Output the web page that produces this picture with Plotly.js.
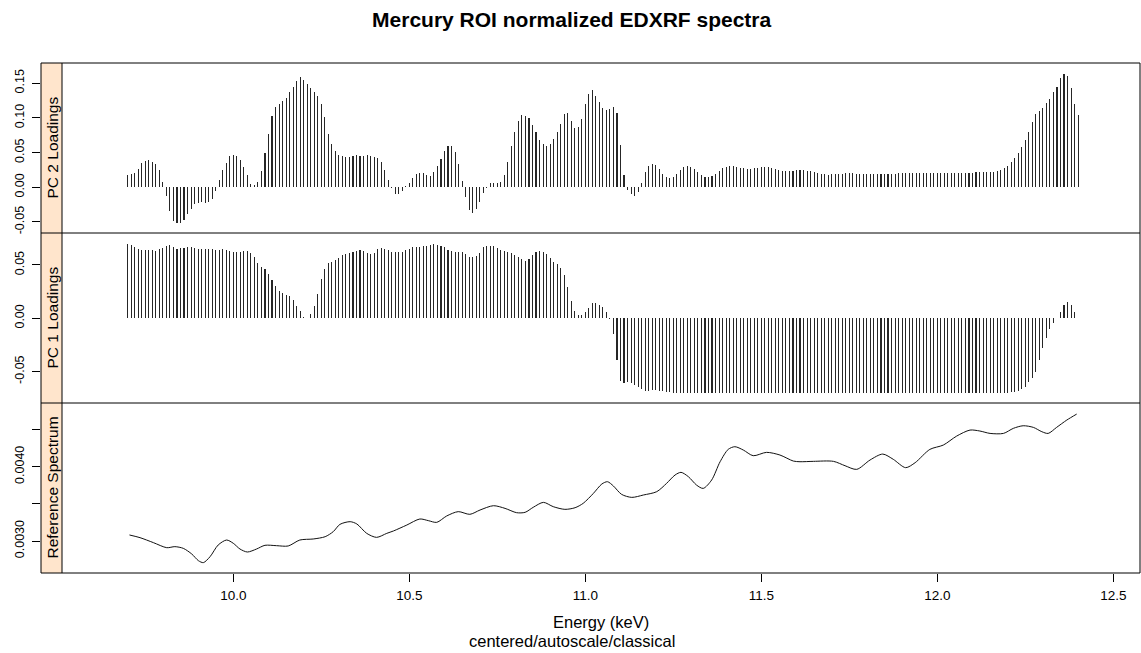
<!DOCTYPE html>
<html>
<head>
<meta charset="utf-8">
<script src="https://cdn.plot.ly/plotly-3.0.1.min.js"></script>
<style>
  html, body { margin: 0; padding: 0; background: #ffffff; }
  #chart { width: 1141px; height: 653px; }
</style>
</head>
<body>
<div id="chart"></div>
<script>
// Energy channels of the mercury region of interest (keV)
const energyStart = 9.70;
const energyStep = 0.01;

// PC 2 loadings, one value per channel
const pc2Loadings = [
  0.0178, 0.0190, 0.0210, 0.0270, 0.0350, 0.0380, 0.0390, 0.0370, 0.0330, 0.0250,
  0.0080, -0.0130, -0.0340, -0.0480, -0.0520, -0.0510, -0.0470, -0.0390, -0.0310, -0.0245,
  -0.0220, -0.0205, -0.0220, -0.0205, -0.0170, -0.0060, 0.0105, 0.0250, 0.0345, 0.0450,
  0.0466, 0.0450, 0.0390, 0.0290, 0.0170, 0.0050, 0.0040, 0.0080, 0.0235, 0.0490,
  0.0770, 0.1030, 0.1160, 0.1200, 0.1240, 0.1290, 0.1370, 0.1450, 0.1530, 0.1585,
  0.1550, 0.1490, 0.1430, 0.1370, 0.1320, 0.1205, 0.1010, 0.0770, 0.0620, 0.0530,
  0.0466, 0.0456, 0.0440, 0.0437, 0.0450, 0.0466, 0.0456, 0.0456, 0.0466, 0.0450,
  0.0437, 0.0420, 0.0360, 0.0250, 0.0106, -0.0010, -0.0100, -0.0100, -0.0060, 0.0012,
  0.0067, 0.0140, 0.0190, 0.0210, 0.0200, 0.0180, 0.0160, 0.0226, 0.0300, 0.0410,
  0.0530, 0.0600, 0.0600, 0.0510, 0.0330, 0.0090, -0.0135, -0.0330, -0.0365, -0.0310,
  -0.0207, -0.0086, -0.0014, 0.0062, 0.0062, 0.0062, 0.0077, 0.0180, 0.0360, 0.0600,
  0.0800, 0.0950, 0.1040, 0.1030, 0.0994, 0.0900, 0.0790, 0.0680, 0.0620, 0.0600,
  0.0624, 0.0700, 0.0790, 0.0910, 0.1050, 0.1066, 0.0956, 0.0860, 0.0870, 0.0980,
  0.1196, 0.1345, 0.1398, 0.1320, 0.1234, 0.1138, 0.1114, 0.1129, 0.1153, 0.1066,
  0.0610, 0.0178, -0.0038, -0.0096, -0.0125, -0.0062, 0.0067, 0.0216, 0.0307, 0.0336,
  0.0322, 0.0264, 0.0192, 0.0149, 0.0139, 0.0154, 0.0192, 0.0250, 0.0288, 0.0307,
  0.0288, 0.0264, 0.0226, 0.0178, 0.0149, 0.0149, 0.0163, 0.0197, 0.0235, 0.0274,
  0.0293, 0.0303, 0.0307, 0.0293, 0.0283, 0.0274, 0.0264, 0.0264, 0.0274, 0.0283,
  0.0288, 0.0288, 0.0288, 0.0274, 0.0260, 0.0245, 0.0235, 0.0235, 0.0235, 0.0235,
  0.0250, 0.0250, 0.0250, 0.0235, 0.0230, 0.0216, 0.0207, 0.0192, 0.0192, 0.0178,
  0.0192, 0.0192, 0.0192, 0.0192, 0.0207, 0.0207, 0.0207, 0.0192, 0.0192, 0.0192,
  0.0192, 0.0192, 0.0192, 0.0192, 0.0192, 0.0192, 0.0192, 0.0192, 0.0192, 0.0200,
  0.0211, 0.0207, 0.0207, 0.0207, 0.0207, 0.0207, 0.0207, 0.0207, 0.0207, 0.0207,
  0.0207, 0.0207, 0.0207, 0.0207, 0.0207, 0.0207, 0.0207, 0.0207, 0.0207, 0.0207,
  0.0207, 0.0216, 0.0226, 0.0221, 0.0221, 0.0221, 0.0221, 0.0235, 0.0250, 0.0279,
  0.0307, 0.0360, 0.0418, 0.0490, 0.0576, 0.0677, 0.0797, 0.0937, 0.1057, 0.1100,
  0.1148, 0.1210, 0.1268, 0.1369, 0.1450, 0.1580, 0.1633, 0.1610, 0.1427, 0.1196,
  0.1042
];

// PC 1 loadings, one value per channel
const pc1Loadings = [
  0.0697, 0.0688, 0.0666, 0.0647, 0.0641, 0.0641, 0.0641, 0.0641, 0.0635, 0.0647,
  0.0657, 0.0679, 0.0688, 0.0672, 0.0654, 0.0657, 0.0660, 0.0669, 0.0666, 0.0660,
  0.0654, 0.0647, 0.0650, 0.0650, 0.0647, 0.0641, 0.0641, 0.0650, 0.0641, 0.0635,
  0.0622, 0.0622, 0.0625, 0.0632, 0.0635, 0.0613, 0.0578, 0.0522, 0.0485, 0.0460,
  0.0413, 0.0360, 0.0303, 0.0256, 0.0235, 0.0216, 0.0206, 0.0172, 0.0116, 0.0069,
  0.0016, 0.0006, 0.0038, 0.0116, 0.0228, 0.0366, 0.0460, 0.0516, 0.0532, 0.0547,
  0.0569, 0.0591, 0.0603, 0.0616, 0.0625, 0.0635, 0.0641, 0.0632, 0.0616, 0.0603,
  0.0616, 0.0647, 0.0657, 0.0650, 0.0641, 0.0622, 0.0622, 0.0622, 0.0622, 0.0641,
  0.0650, 0.0666, 0.0672, 0.0672, 0.0679, 0.0682, 0.0691, 0.0694, 0.0688, 0.0682,
  0.0666, 0.0641, 0.0635, 0.0619, 0.0625, 0.0625, 0.0603, 0.0578, 0.0578, 0.0588,
  0.0616, 0.0666, 0.0682, 0.0682, 0.0682, 0.0663, 0.0641, 0.0632, 0.0625, 0.0610,
  0.0597, 0.0578, 0.0553, 0.0541, 0.0560, 0.0594, 0.0625, 0.0635, 0.0625, 0.0603,
  0.0569, 0.0532, 0.0507, 0.0469, 0.0407, 0.0291, 0.0166, 0.0069, 0.0031, 0.0031,
  0.0063, 0.0094, 0.0141, 0.0147, 0.0125, 0.0103, 0.0063, -0.0003, -0.0147, -0.0390,
  -0.0585, -0.0604, -0.0600, -0.0610, -0.0625, -0.0641, -0.0666, -0.0679, -0.0679, -0.0672,
  -0.0672, -0.0679, -0.0682, -0.0688, -0.0694, -0.0697, -0.0700, -0.0700, -0.0702, -0.0702,
  -0.0703, -0.0703, -0.0703, -0.0703, -0.0704, -0.0704, -0.0703, -0.0703, -0.0703, -0.0703,
  -0.0703, -0.0703, -0.0704, -0.0704, -0.0704, -0.0703, -0.0703, -0.0703, -0.0703, -0.0703,
  -0.0703, -0.0703, -0.0703, -0.0703, -0.0703, -0.0703, -0.0704, -0.0704, -0.0704, -0.0704,
  -0.0704, -0.0704, -0.0704, -0.0704, -0.0704, -0.0704, -0.0704, -0.0704, -0.0704, -0.0704,
  -0.0704, -0.0704, -0.0704, -0.0704, -0.0704, -0.0704, -0.0704, -0.0704, -0.0704, -0.0704,
  -0.0704, -0.0704, -0.0704, -0.0704, -0.0704, -0.0704, -0.0704, -0.0704, -0.0704, -0.0704,
  -0.0704, -0.0704, -0.0704, -0.0704, -0.0704, -0.0704, -0.0704, -0.0704, -0.0704, -0.0704,
  -0.0704, -0.0704, -0.0704, -0.0704, -0.0704, -0.0704, -0.0704, -0.0704, -0.0704, -0.0704,
  -0.0704, -0.0704, -0.0704, -0.0704, -0.0704, -0.0704, -0.0704, -0.0704, -0.0703, -0.0702,
  -0.0700, -0.0694, -0.0688, -0.0679, -0.0666, -0.0641, -0.0594, -0.0563, -0.0500, -0.0390,
  -0.0281, -0.0181, -0.0103, -0.0047, 0.0003, 0.0063, 0.0125, 0.0156, 0.0125, 0.0063,
  0.0005
];

// Normalized reference spectrum sampled along the energy axis
const refEnergy = [
  9.705, 9.735, 9.773, 9.811, 9.834, 9.858, 9.882, 9.901, 9.915, 9.934,
  9.957, 9.981, 10.000, 10.019, 10.040, 10.066, 10.090, 10.123, 10.156, 10.189,
  10.227, 10.261, 10.284, 10.303, 10.332, 10.351, 10.379, 10.407, 10.436, 10.455,
  10.493, 10.530, 10.554, 10.578, 10.606, 10.639, 10.672, 10.701, 10.739, 10.772,
  10.805, 10.829, 10.852, 10.881, 10.909, 10.942, 10.971, 10.994, 11.023, 11.047,
  11.063, 11.080, 11.103, 11.132, 11.165, 11.203, 11.231, 11.255, 11.272, 11.293,
  11.316, 11.335, 11.359, 11.383, 11.406, 11.425, 11.449, 11.477, 11.515, 11.553,
  11.591, 11.610, 11.648, 11.705, 11.738, 11.771, 11.809, 11.845, 11.875, 11.910,
  11.937, 11.979, 12.017, 12.055, 12.093, 12.121, 12.150, 12.188, 12.216, 12.244,
  12.273, 12.297, 12.315, 12.339, 12.368, 12.396
];
const refSpectrum = [
  0.003081, 0.003045, 0.002978, 0.002910, 0.002924, 0.002901, 0.002825, 0.002735, 0.002709, 0.002789,
  0.002946, 0.003013, 0.002969, 0.002892, 0.002852, 0.002892, 0.002942, 0.002937, 0.002933, 0.003013,
  0.003027, 0.003058, 0.003126, 0.003224, 0.003260, 0.003229, 0.003103, 0.003049, 0.003103, 0.003135,
  0.003215, 0.003296, 0.003274, 0.003251, 0.003336, 0.003395, 0.003359, 0.003417, 0.003475, 0.003439,
  0.003381, 0.003386, 0.003453, 0.003520, 0.003462, 0.003426, 0.003448, 0.003507, 0.003641, 0.003767,
  0.003798, 0.003740, 0.003628, 0.003587, 0.003619, 0.003664, 0.003776, 0.003888, 0.003924, 0.003865,
  0.003753, 0.003708, 0.003821, 0.004067, 0.004233, 0.004269, 0.004224, 0.004148, 0.004193, 0.004157,
  0.004076, 0.004067, 0.004072, 0.004072, 0.004013, 0.003964, 0.004090, 0.004170, 0.004099, 0.003987,
  0.004054, 0.004233, 0.004291, 0.004412, 0.004493, 0.004480, 0.004448, 0.004448, 0.004516, 0.004551,
  0.004529, 0.004471, 0.004448, 0.004529, 0.004628, 0.004708
];

// Axis tick labels
const energyTicks = [10.0, 10.5, 11.0, 11.5, 12.0, 12.5];
const energyTickText = ['10.0', '10.5', '11.0', '11.5', '12.0', '12.5'];
const pc2Ticks = [-0.05, 0.0, 0.05, 0.10, 0.15];
const pc2TickText = ['-0.05', '0.00', '0.05', '0.10', '0.15'];
const pc1Ticks = [-0.05, 0.0, 0.05];
const pc1TickText = ['-0.05', '0.00', '0.05'];
const refTicks = [0.0030, 0.0035, 0.0040, 0.0045];
const refTickText = ['0.0030', '', '0.0040', ''];
const panelNames = ['Reference Spectrum', 'PC 1 Loadings', 'PC 2 Loadings'];

const energy = pc2Loadings.map((_, i) => +(energyStart + energyStep * i).toFixed(2));

const FONT = 'Liberation Sans, Arial, Helvetica, sans-serif';
const INK = '#000000';
const BAR_INK = '#262626';
const STRIP_FILL = '#FFE5CC';

// Left strip occupies the first 21 px of the 1099 px plotting width
const stripW = 21 / 1099;

const traces = [
  {
    type: 'bar', x: energy, y: pc2Loadings, xaxis: 'x', yaxis: 'y3',
    width: 0.0031, marker: { color: BAR_INK, line: { width: 0 } },
    hoverinfo: 'x+y', showlegend: false
  },
  {
    type: 'bar', x: energy, y: pc1Loadings, xaxis: 'x', yaxis: 'y2',
    width: 0.0031, marker: { color: BAR_INK, line: { width: 0 } },
    hoverinfo: 'x+y', showlegend: false
  },
  {
    type: 'scatter', mode: 'lines', x: refEnergy, y: refSpectrum, xaxis: 'x', yaxis: 'y',
    line: { color: '#111111', width: 1, shape: 'spline', smoothing: 0.8 },
    hoverinfo: 'x+y', showlegend: false
  }
];

const yCommon = {
  anchor: 'x', showgrid: false, zeroline: false, showline: false,
  ticks: 'outside', ticklen: 8, tickcolor: INK, tickwidth: 1,
  tickangle: -90, tickmode: 'array',
  tickfont: { family: FONT, size: 12.5, color: INK },
  ticklabelstandoff: 3, fixedrange: true
};

const energyRange = [9.4537, 12.5759];

const layout = {
  width: 1141, height: 653,
  margin: { l: 41, r: 1, t: 63, b: 80, pad: 0 },
  paper_bgcolor: '#ffffff', plot_bgcolor: '#ffffff',
  font: { family: FONT, color: INK },
  bargap: 0, barmode: 'overlay',
  title: {
    text: 'Mercury ROI normalized EDXRF spectra',
    font: { family: FONT, size: 21, weight: 'bold', color: INK },
    xref: 'container', x: 0.501, xanchor: 'center',
    yref: 'container', y: 1 - 19.5 / 653, yanchor: 'middle'
  },
  xaxis: {
    domain: [0, 1], anchor: 'y', range: energyRange,
    showgrid: false, zeroline: false, showline: false,
    ticks: 'outside', ticklen: 8, tickcolor: INK, tickwidth: 1,
    tickmode: 'array', tickvals: energyTicks, ticktext: energyTickText,
    tickfont: { family: FONT, size: 13.5, color: INK },
    ticklabelstandoff: 2, fixedrange: true
  },
  xaxis2: {
    domain: [0, 1], anchor: 'y3', overlaying: 'x', side: 'top', range: energyRange,
    showgrid: false, zeroline: false, showline: false,
    ticks: 'outside', ticklen: 8, tickcolor: INK, tickwidth: 1,
    tickmode: 'array', tickvals: energyTicks, showticklabels: false, fixedrange: true
  },
  yaxis: Object.assign({}, yCommon, {
    domain: [0, 1 / 3], range: [0.0025693, 0.0048573],
    tickvals: refTicks, ticktext: refTickText
  }),
  yaxis2: Object.assign({}, yCommon, {
    domain: [1 / 3, 2 / 3], range: [-0.0795, 0.0800],
    tickvals: pc1Ticks, ticktext: pc1TickText
  }),
  yaxis3: Object.assign({}, yCommon, {
    domain: [2 / 3, 1], range: [-0.0659, 0.1791],
    tickvals: pc2Ticks, ticktext: pc2TickText
  }),
  shapes: [
    // strip background down the left side of every panel
    { type: 'rect', xref: 'paper', yref: 'paper', x0: 0, x1: stripW, y0: 0, y1: 1,
      fillcolor: STRIP_FILL, line: { width: 0 }, layer: 'below' },
    // outer frame
    { type: 'rect', xref: 'paper', yref: 'paper', x0: 0, x1: 1, y0: 0, y1: 1,
      line: { color: INK, width: 1 }, fillcolor: 'rgba(0,0,0,0)', layer: 'above' },
    // panel separators
    { type: 'line', xref: 'paper', yref: 'paper', x0: 0, x1: 1, y0: 1 / 3, y1: 1 / 3,
      line: { color: INK, width: 1 }, layer: 'above' },
    { type: 'line', xref: 'paper', yref: 'paper', x0: 0, x1: 1, y0: 2 / 3, y1: 2 / 3,
      line: { color: INK, width: 1 }, layer: 'above' },
    // strip edge
    { type: 'line', xref: 'paper', yref: 'paper', x0: stripW, x1: stripW, y0: 0, y1: 1,
      line: { color: INK, width: 1 }, layer: 'above' }
  ],
  annotations: panelNames.map((name, k) => ({
    text: name, xref: 'paper', yref: 'paper',
    x: stripW / 2, y: (k + 0.5) / 3, xanchor: 'center', yanchor: 'middle',
    textangle: -90, showarrow: false,
    font: { family: FONT, size: 15.5, color: INK }
  })).concat([
    {
      text: 'Energy (keV)', xref: 'paper', yref: 'paper',
      x: (601 - 41) / 1099, y: (573 - 622) / 510, xanchor: 'center', yanchor: 'middle',
      showarrow: false, font: { family: FONT, size: 16.5, color: INK }
    },
    {
      text: 'centered/autoscale/classical', xref: 'paper', yref: 'paper',
      x: (572 - 41) / 1099, y: (573 - 641) / 510, xanchor: 'center', yanchor: 'middle',
      showarrow: false, font: { family: FONT, size: 16.5, color: INK }
    }
  ])
};

Plotly.newPlot('chart', traces, layout, { displayModeBar: false, staticPlot: true });
</script>
</body>
</html>
